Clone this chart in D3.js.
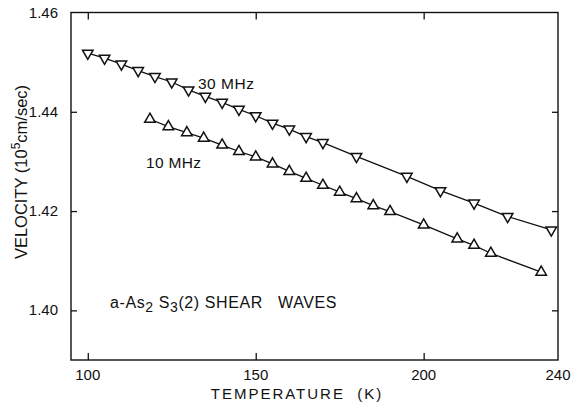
<!DOCTYPE html>
<html>
<head>
    <meta charset='utf-8'>
    <title>Shear wave velocity</title>
    <script src='https://cdn.jsdelivr.net/npm/d3@7'></script>
    <style>
        body { margin: 0; background: #fff; }
        text { font-family: 'Liberation Sans', Arial, sans-serif; fill: #111; }
    </style>
</head>
<body>
    <svg width='574' height='402'></svg>
    <script>
        // 30 MHz series (down triangles)
        const temp30 = [100, 105, 110, 115, 120, 125, 130, 135, 140, 145, 150, 155, 160, 165, 170, 180, 195, 205, 215, 225, 238]
        const vel30 = [1.4518, 1.4508, 1.4496, 1.4483, 1.4471, 1.4460, 1.4444, 1.4431, 1.4419, 1.4405, 1.4392, 1.4377, 1.4365, 1.4350, 1.4338, 1.4310, 1.4270, 1.4241, 1.4216, 1.4189, 1.4162]
        // 10 MHz series (up triangles)
        const temp10 = [118.5, 124, 129.5, 134.5, 140, 145, 150, 155, 160, 165, 170, 175, 180, 185, 190, 200, 210, 215, 220, 235]
        const vel10 = [1.4385, 1.4370, 1.4358, 1.4347, 1.4333, 1.4320, 1.4309, 1.4295, 1.4280, 1.4266, 1.4252, 1.4238, 1.4225, 1.4211, 1.4199, 1.4172, 1.4144, 1.4131, 1.4115, 1.4077]

        const xTicks = [100, 150, 200, 240]
        const yTicks = [1.40, 1.42, 1.44, 1.46]

        const svg = d3.select('svg')
        const margin = { top: 12.5, left: 71, right: 16, bottom: 42 }
        const width = 574, height = 402

        const x = d3.scaleLinear().domain([95, 240]).range([margin.left, width - margin.right])
        const y = d3.scaleLinear().domain([1.39, 1.46]).range([height - margin.bottom, margin.top])

        // frame
        svg.append('rect')
            .attr('x', x(95)).attr('y', y(1.46))
            .attr('width', x(240) - x(95)).attr('height', y(1.39) - y(1.46))
            .attr('fill', 'none').attr('stroke', '#111').attr('stroke-width', 1.4)

        // inward ticks on all four sides
        const innerX = [100, 150, 200]
        const innerY = [1.40, 1.42, 1.44]
        function addAxis(axis, transform) {
            const g = svg.append('g').attr('transform', transform).call(axis)
            g.select('.domain').remove()
            g.selectAll('line').attr('stroke', '#111').attr('stroke-width', 1.3)
            return g
        }
        addAxis(d3.axisBottom(x).tickValues(innerX).tickSize(-7).tickFormat(''), `translate(0,${y(1.39)})`)
        addAxis(d3.axisTop(x).tickValues(innerX).tickSize(-7).tickFormat(''), `translate(0,${y(1.46)})`)
        addAxis(d3.axisLeft(y).tickValues(innerY).tickSize(-6).tickFormat(''), `translate(${x(95)},0)`)
        addAxis(d3.axisRight(y).tickValues(innerY).tickSize(-6).tickFormat(''), `translate(${x(240)},0)`)

        // tick labels
        svg.append('g').selectAll('text').data(xTicks).enter().append('text')
            .attr('x', d => x(d)).attr('y', 380)
            .attr('text-anchor', 'middle')
            .style('font-size', '15px')
            .text(d => d)
        svg.append('g').selectAll('text').data(yTicks).enter().append('text')
            .attr('x', 58).attr('y', d => y(d) + 5)
            .attr('text-anchor', 'end')
            .style('font-size', '15px')
            .text(d => d.toFixed(2))

        // axis titles
        svg.append('text')
            .attr('x', 297).attr('y', 399)
            .attr('text-anchor', 'middle')
            .style('font-size', '15px')
            .style('letter-spacing', '2px')
            .style('white-space', 'pre')
            .text('TEMPERATURE  (K)')

        const yTitle = svg.append('text')
            .attr('transform', 'translate(27,172) rotate(-90)')
            .attr('text-anchor', 'middle')
            .style('font-size', '16.5px')
        yTitle.append('tspan').text('VELOCITY (10')
        yTitle.append('tspan').attr('dy', -7).style('font-size', '12px').text('5')
        yTitle.append('tspan').attr('dy', 7).text('cm/sec)')

        // series
        const line = d3.line().x(d => x(d[0])).y(d => y(d[1]))
        const pts30 = temp30.map((t, i) => [t, vel30[i]])
        const pts10 = temp10.map((t, i) => [t, vel10[i]])

        const tri = d3.symbol().type(d3.symbolTriangle).size(48)

        function drawSeries(pts, rot) {
            svg.append('path').datum(pts)
                .attr('d', line)
                .attr('fill', 'none').attr('stroke', '#111').attr('stroke-width', 1.3)
            svg.append('g').selectAll('path').data(pts).enter().append('path')
                .attr('d', tri)
                .attr('transform', d => `translate(${x(d[0])},${y(d[1])}) rotate(${rot})`)
                .attr('fill', '#fff').attr('stroke', '#111').attr('stroke-width', 1.5)
        }
        drawSeries(pts30, 180)
        drawSeries(pts10, 0)

        // annotations
        svg.append('text').attr('x', 198).attr('y', 89)
            .style('font-size', '15.5px').style('letter-spacing', '0.5px').text('30 MHz')
        svg.append('text').attr('x', 146).attr('y', 168)
            .style('font-size', '15.5px').style('letter-spacing', '0.3px').text('10 MHz')

        const note = svg.append('text').attr('x', 110).attr('y', 308)
            .style('font-size', '16px').style('letter-spacing', '0.6px').style('white-space', 'pre')
        note.append('tspan').text('a-As')
        note.append('tspan').attr('dy', 4).style('font-size', '14px').text('2')
        note.append('tspan').attr('dy', -4).text(' S')
        note.append('tspan').attr('dy', 4).style('font-size', '14px').text('3')
        note.append('tspan').attr('dy', -4).text('(2) SHEAR   WAVES')
    </script>
</body>
</html>
